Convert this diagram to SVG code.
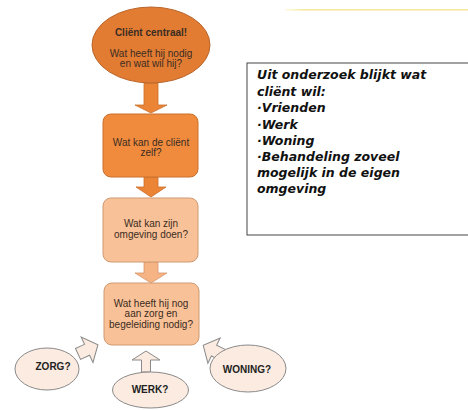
<svg xmlns="http://www.w3.org/2000/svg" width="468" height="410" viewBox="0 0 468 410">
<defs>
<linearGradient id="topline" x1="0" y1="0" x2="1" y2="0">
<stop offset="0" stop-color="#fffbe0"/>
<stop offset="0.1" stop-color="#f4e9a0"/>
<stop offset="1" stop-color="#f4e9a0"/>
</linearGradient>
<path id="blk" d="M0,-6 L10,-6 L10,-14 L22,0 L10,14 L10,6 L0,6 Z"/>
</defs>
<style>
.t{font-family:"Liberation Sans",Arial,sans-serif;font-size:10px;fill:#3a2c22;text-anchor:middle}
.b{font-weight:bold}
.s{font-family:"Liberation Sans",Arial,sans-serif;font-size:10px;font-weight:bold;fill:#222;text-anchor:middle}
.small{fill:#fbebe0;stroke:#8a8a8a;stroke-width:1}
.sarr{fill:#fbebe0;stroke:#8a8a8a;stroke-width:1;stroke-linejoin:miter}
.big{font-family:"DejaVu Sans",Verdana,sans-serif;font-size:12.5px;font-weight:bold;font-style:italic;fill:#111}
</style>
<rect width="468" height="410" fill="#ffffff"/>
<rect x="285" y="9" width="183" height="1.6" fill="url(#topline)"/>

<g id="connectors">
<path d="M144,83 L158,83 L158,105 L167,105 L151,113 L135,105 L144,105 Z" fill="#ec8436" stroke="#c96f2c" stroke-width="0.8"/>
<path d="M144,177 L158,177 L158,187 L166,187 L151,197 L136,187 L144,187 Z" fill="#ec8436" stroke="#c96f2c" stroke-width="0.8"/>
<path d="M144,262 L158,262 L158,273 L167,273 L151,283 L135,273 L144,273 Z" fill="#f6b384" stroke="#d8956a" stroke-width="0.8"/>
<use href="#blk" class="sarr" transform="translate(78,354) rotate(-25)"/>
<use href="#blk" class="sarr" transform="translate(223,355) rotate(206)"/>
<path d="M141.5,372 L141.5,360 L132,360 L146,351 L160,360 L150.5,360 L150.5,372 Z" class="sarr"/>
</g>

<g id="n1">
<ellipse cx="151" cy="45" rx="59" ry="38" fill="#e27c33" stroke="#b9652b" stroke-width="1"/>
<text class="t b" x="151" y="36">Cliënt centraal!</text>
<text class="t" x="151" y="57">Wat heeft hij nodig</text>
<text class="t" x="151" y="67">en wat wil hij?</text>
</g>

<g id="n2">
<rect x="103" y="114" width="95" height="63" rx="8" fill="#f08b3e" stroke="#c8702e" stroke-width="1"/>
<text class="t" x="151" y="145.5">Wat kan de cliënt</text>
<text class="t" x="151" y="156">zelf?</text>
</g>

<g id="n3">
<rect x="103" y="198" width="95" height="64" rx="8" fill="#f9c197" stroke="#cf9a72" stroke-width="1"/>
<text class="t" x="151" y="227">Wat kan zijn</text>
<text class="t" x="151" y="237.5">omgeving doen?</text>
</g>

<g id="n4">
<rect x="104" y="283" width="95" height="62" rx="8" fill="#f9c197" stroke="#cf9a72" stroke-width="1"/>
<text class="t" x="151" y="306.5">Wat heeft hij nog</text>
<text class="t" x="151" y="317">aan zorg en</text>
<text class="t" x="151" y="327.5">begeleiding nodig?</text>
</g>

<g id="zorg">
<ellipse cx="47" cy="369" rx="32" ry="21" class="small"/>
<text class="s" x="53" y="369.5">ZORG?</text>
</g>

<g id="werk">
<ellipse cx="150.5" cy="390" rx="38" ry="18" class="small"/>
<text class="s" x="150" y="393">WERK?</text>
</g>

<g id="woning">
<ellipse cx="248" cy="368.5" rx="38" ry="23.5" class="small"/>
<text class="s" x="247" y="372.5">WONING?</text>
</g>

<g id="info">
<rect x="247" y="63" width="230" height="172" fill="#ffffff" stroke="#444" stroke-width="1"/>
<text class="big" x="257" y="79">Uit onderzoek blijkt wat</text>
<text class="big" x="257" y="95.5">cliënt wil:</text>
<text class="big" x="257" y="112">·Vrienden</text>
<text class="big" x="257" y="128.5">·Werk</text>
<text class="big" x="257" y="145">·Woning</text>
<text class="big" x="257" y="161">·Behandeling zoveel</text>
<text class="big" x="257" y="177">mogelijk in de eigen</text>
<text class="big" x="257" y="193">omgeving</text>
</g>
</svg>
